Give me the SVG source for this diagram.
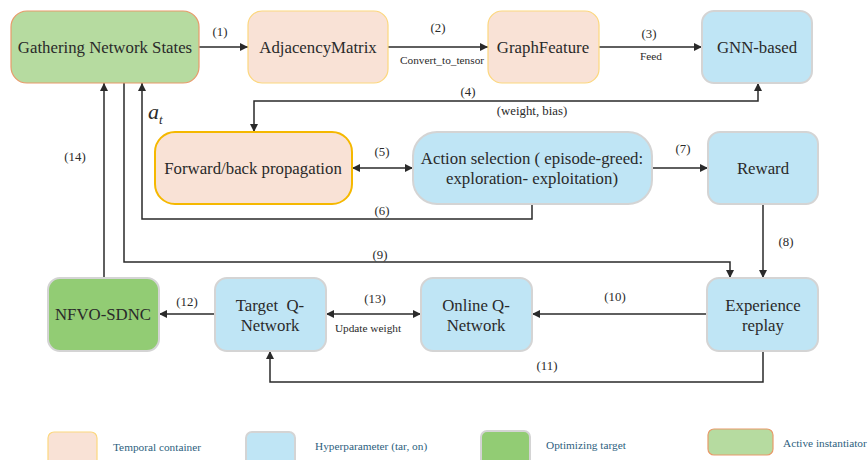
<svg xmlns="http://www.w3.org/2000/svg" width="868" height="460" viewBox="0 0 868 460">
<defs>
<marker id="ah" viewBox="0 0 10 10" refX="10" refY="5" markerWidth="8" markerHeight="8" markerUnits="userSpaceOnUse" orient="auto-start-reverse">
<path d="M0,0 L10,5 L0,10 z" fill="#2a2a2a"/>
</marker>
<style>
text{font-family:'Liberation Serif','Times New Roman',serif}
.t{fill:#2a2a2a;text-anchor:middle}
.n{font-size:16.8px}
.l{font-size:12.8px}
.s{font-size:11.3px}
.lg{font-size:11.3px;fill:#2e5f80}
.c{fill:none;stroke:#2a2a2a;stroke-width:1.5}
.temp{fill:#f9e2d6;stroke:#fcd77e;stroke-width:1.2}
.hyp{fill:#bfe5f5;stroke:#d4d4d4;stroke-width:2}
.opt{fill:#92cc74;stroke:#d4d4d4;stroke-width:2}
.act{fill:#b6dba0;stroke:#e89a6a;stroke-width:1.2}
</style>
</defs>

<g id="connectors">
<line class="c" x1="199" y1="47" x2="248" y2="47" marker-end="url(#ah)"/>
<line class="c" x1="388" y1="47" x2="488" y2="47" marker-end="url(#ah)"/>
<line class="c" x1="599" y1="47" x2="702" y2="47" marker-end="url(#ah)"/>
<polyline class="c" points="254,132 254,101 758,101 758,83" marker-start="url(#ah)" marker-end="url(#ah)"/>
<line class="c" x1="352" y1="168" x2="413" y2="168" marker-start="url(#ah)" marker-end="url(#ah)"/>
<polyline class="c" points="532,204 532,219 142,219 142,83" marker-end="url(#ah)"/>
<line class="c" x1="652" y1="168" x2="708" y2="168" marker-end="url(#ah)"/>
<line class="c" x1="763" y1="204" x2="763" y2="278" marker-end="url(#ah)"/>
<polyline class="c" points="124,83 124,262 730,262 730,278" marker-end="url(#ah)"/>
<line class="c" x1="707" y1="314" x2="532" y2="314" marker-end="url(#ah)"/>
<polyline class="c" points="763,351 763,382 270,382 270,351" marker-end="url(#ah)"/>
<line class="c" x1="215" y1="314" x2="159" y2="314" marker-end="url(#ah)"/>
<line class="c" x1="326" y1="314" x2="421" y2="314" marker-start="url(#ah)" marker-end="url(#ah)"/>
<line class="c" x1="104" y1="278" x2="104" y2="83" marker-end="url(#ah)"/>

<text class="t l" x="220" y="36">(1)</text>
<text class="t l" x="438" y="32">(2)</text>
<text class="t s" x="442" y="64">Convert_to_tensor</text>
<text class="t l" x="649" y="38">(3)</text>
<text class="t s" x="651" y="60">Feed</text>
<text class="t l" x="468" y="96">(4)</text>
<text class="t l" x="532" y="115">(weight, bias)</text>
<text class="t l" x="382" y="156">(5)</text>
<text class="t l" x="382" y="215">(6)</text>
<text class="t l" x="683" y="153">(7)</text>
<text class="t l" x="786" y="246">(8)</text>
<text class="t l" x="380" y="259">(9)</text>
<text class="t l" x="615" y="301">(10)</text>
<text class="t l" x="547" y="370">(11)</text>
<text class="t l" x="187" y="306">(12)</text>
<text class="t l" x="375" y="303">(13)</text>
<text class="t s" x="368" y="332">Update weight</text>
<text class="t l" x="75" y="161">(14)</text>
<text x="148" y="119" font-style="italic" font-size="22" fill="#2a2a2a">a<tspan font-size="13" dy="5">t</tspan></text>
</g>

<g id="gathering">
<rect class="act" x="11" y="11" width="188" height="72" rx="16"/>
<text class="t n" x="105" y="53">Gathering Network States</text>
</g>
<g id="adjacency">
<rect class="temp" x="248" y="11" width="140" height="72" rx="14"/>
<text class="t n" x="318" y="53">AdjacencyMatrix</text>
</g>
<g id="graphfeature">
<rect class="temp" x="488" y="11" width="111" height="72" rx="14"/>
<text class="t n" x="543" y="53">GraphFeature</text>
</g>
<g id="gnn">
<rect class="hyp" x="702" y="11" width="110" height="72" rx="12" stroke-width="1"/>
<text class="t n" x="757" y="53">GNN-based</text>
</g>
<g id="forward">
<rect x="155" y="132" width="197" height="72" rx="20" fill="#f9e2d6" stroke="#f5b800" stroke-width="2"/>
<text class="t n" x="253" y="174">Forward/back propagation</text>
</g>
<g id="action">
<rect class="hyp" x="413" y="132" width="239" height="72" rx="24"/>
<text class="t n" x="532" y="164">Action selection ( episode-greed:</text>
<text class="t n" x="532" y="184">exploration- exploitation)</text>
</g>
<g id="reward">
<rect class="hyp" x="708" y="132" width="110" height="72" rx="12"/>
<text class="t n" x="763" y="174">Reward</text>
</g>
<g id="experience">
<rect class="hyp" x="707" y="278" width="111" height="73" rx="12"/>
<text class="t n" x="763" y="311">Experience</text>
<text class="t n" x="763" y="331">replay</text>
</g>
<g id="online">
<rect class="hyp" x="421" y="278" width="111" height="73" rx="12"/>
<text class="t n" x="476" y="311">Online Q-</text>
<text class="t n" x="476" y="331">Network</text>
</g>
<g id="target">
<rect class="hyp" x="215" y="278" width="111" height="73" rx="12"/>
<text class="t n" x="270" y="311" xml:space="preserve">Target  Q-</text>
<text class="t n" x="270" y="331">Network</text>
</g>
<g id="nfvo">
<rect class="opt" x="48" y="278" width="111" height="73" rx="12"/>
<text class="t n" x="103" y="320">NFVO-SDNC</text>
</g>

<g id="legend">
<rect class="temp" x="48" y="432" width="49" height="40" rx="6"/>
<text class="lg" x="113" y="451">Temporal container</text>
<rect class="hyp" x="246" y="432" width="49" height="40" rx="6"/>
<text class="lg" x="315" y="450">Hyperparameter (tar, on)</text>
<rect class="opt" x="481" y="431" width="49" height="40" rx="6"/>
<text class="lg" x="546" y="449">Optimizing target</text>
<rect class="act" x="708" y="429" width="65" height="26" rx="6"/>
<text class="lg" x="783" y="447">Active instantiator</text>
</g>
</svg>
